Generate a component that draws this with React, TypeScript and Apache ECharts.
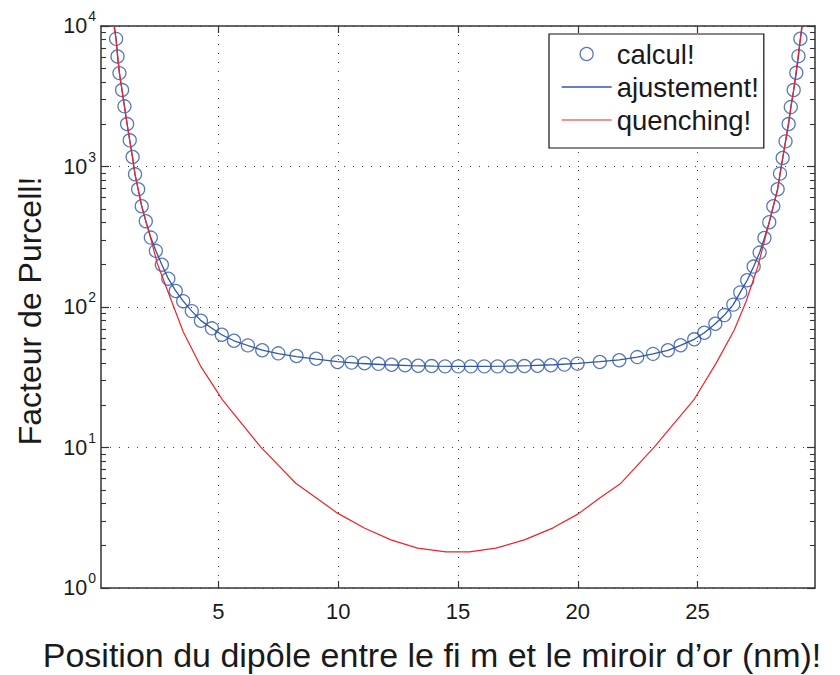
import React, { useEffect, useRef } from "react";
import * as echarts from "echarts";

// ---- data ----
const seriesNames = ["calcul!", "ajustement!", "quenching!"];

const calculX = [
  0.73, 0.79, 0.87, 0.98, 1.08, 1.19, 1.3, 1.42, 1.52, 1.65, 1.8, 1.97, 2.18, 2.39, 2.64, 2.91, 3.22, 3.53,
  3.89, 4.27, 4.73, 5.14, 5.65, 6.23, 6.83, 7.5, 8.26, 9.08, 9.97,
  10.56, 11.1, 11.68, 12.23, 12.79, 13.34, 13.9, 14.46, 15.01, 15.54, 16.1, 16.65, 17.21, 17.77, 18.32, 18.88,
  19.44, 19.99,
  20.92, 21.73, 22.48, 23.14, 23.76, 24.29, 24.86, 25.28, 25.74, 26.12, 26.49, 26.78, 27.07, 27.34, 27.59,
  27.79, 27.99, 28.16, 28.34, 28.44, 28.55, 28.67, 28.8, 28.89, 29.01, 29.12, 29.21, 29.29,
];
const calculY = [
  8100, 6070, 4620, 3500, 2680, 2005, 1536, 1168, 880, 689, 521, 408, 312, 251, 200, 159, 130, 110,
  93.5, 79.8, 70.5, 63.5, 57.5, 53.3, 49.2, 46.8, 44.8, 42.8, 40.6,
  40.2, 39.8, 39.4, 38.8, 38.5, 38.2, 38.0, 37.8, 37.8, 37.8, 37.8, 37.8, 37.9, 38.0, 38.2, 38.5,
  38.9, 39.5,
  40.6, 41.8, 44.0, 46.4, 49.2, 53.4, 58.9, 65.6, 76.0, 87.6, 104, 127, 155, 194, 244,
  310, 401, 521, 689, 890, 1149, 1510, 2005, 2648, 3500, 4645, 6100, 8110,
];

const fitX = [
  0.66, 0.73, 0.79, 0.87, 0.98, 1.08, 1.19, 1.3, 1.42, 1.52, 1.65, 1.8, 1.97, 2.18, 2.39, 2.64, 2.91, 3.22,
  3.53, 3.89, 4.27, 4.73, 5.14, 5.65, 6.23, 6.83, 7.5, 8.26, 9.08, 9.97,
  11.0, 12.0, 13.0, 14.0, 15.0, 16.0, 17.0, 18.0, 19.0, 20.0,
  20.92, 21.73, 22.48, 23.14, 23.76, 24.29, 24.86, 25.28, 25.74, 26.12, 26.49, 26.78, 27.07, 27.34, 27.59,
  27.79, 27.99, 28.16, 28.34, 28.44, 28.55, 28.67, 28.8, 28.89, 29.01, 29.12, 29.21, 29.29, 29.35,
];
const fitY = [
  10000, 8100, 6070, 4620, 3500, 2680, 2005, 1536, 1168, 880, 689, 521, 408, 312, 251, 200, 159, 130,
  110, 93.5, 80.0, 70.5, 63.5, 57.5, 53.2, 49.3, 46.6, 44.4, 42.5, 40.8,
  39.6, 38.8, 38.2, 37.9, 37.8, 37.8, 37.9, 38.2, 38.8, 39.7,
  40.8, 42.0, 44.0, 46.4, 49.2, 53.4, 58.9, 65.6, 76.0, 87.6, 104, 127, 155, 194, 244,
  310, 401, 521, 689, 890, 1149, 1510, 2005, 2648, 3500, 4645, 6100, 8110, 10000,
];

const quenchX = [
  0.64, 0.73, 0.87, 1.08, 1.3, 1.52, 1.8, 2.18, 2.45, 2.9, 3.53, 4.27, 5.17, 6.77, 8.23, 9.97, 11.09, 12.2,
  13.31, 14.5, 15.47, 16.58, 17.77, 18.95, 20.02, 20.9, 21.8, 23.19, 24.84, 25.77, 26.53, 27.02, 27.51,
  27.99, 28.34, 28.67, 29.01, 29.29, 29.37,
];
const quenchY = [
  10000, 8000, 4600, 2650, 1530, 880, 520, 305, 204, 128, 66.7, 37.6, 21.8, 10.05, 5.57, 3.41, 2.67, 2.2,
  1.92, 1.81, 1.81, 1.92, 2.2, 2.67, 3.37, 4.36, 5.57, 10.05, 21.8, 39.7, 68.5, 109, 193,
  401, 689, 1510, 3500, 8100, 10000,
];

const xTicks = [5, 10, 15, 20, 25];
const yTicks = [1, 10, 100, 1000, 10000];
const yTickExponents = ["0", "1", "2", "3", "4"];
const yMinorTicks = [
  2, 3, 4, 5, 6, 7, 8, 9, 20, 30, 40, 50, 60, 70, 80, 90, 200, 300, 400, 500, 600, 700, 800, 900,
  2000, 3000, 4000, 5000, 6000, 7000, 8000, 9000,
];
const xTitle = "Position du dipôle entre le fi m et le miroir d’or (nm)!";
const yTitle = "Facteur de Purcell!";

export default function App() {
  const ref = useRef<HTMLDivElement>(null);

  useEffect(() => {
    document.body.style.margin = "0";
    const chart = echarts.init(ref.current as HTMLDivElement, null, { renderer: "svg" });

    const FONT = "'Liberation Sans', Arial, Helvetica, sans-serif";
    const BLUE = "#2f56aa";
    const RED = "#f0222a";
    const AXIS = "#333333";
    const TXT = "#1a1a1a";

    const zip = (xs: number[], ys: number[]) => xs.map((x, i) => [x, ys[i]]);
    const dotted = { show: true, lineStyle: { color: "#3c3c3c", width: 1, type: [1, 8] } };
    const axisLine = { show: true, onZero: false, lineStyle: { color: AXIS, width: 1.5 } };

    const xCommon = { type: "value", min: 0.1, max: 29.9, gridIndex: 0 };
    const yCommon = { type: "log", logBase: 10, min: 1, max: 10000, gridIndex: 0 };

    const yLabel = (v: number) => {
      const i = yTicks.findIndex((t) => Math.abs(t - v) <= t * 1e-6);
      return i < 0 ? "" : `{b|10}{s|${yTickExponents[i]}}`;
    };

    const option: any = {
      animation: false,
      backgroundColor: "#ffffff",
      textStyle: { fontFamily: FONT },
      grid: { left: 101, top: 26, width: 714, height: 562, containLabel: false },
      xAxis: [
        {
          ...xCommon,
          position: "bottom",
          axisLine,
          axisTick: { show: true, inside: true, length: 7, customValues: xTicks, lineStyle: { color: AXIS, width: 1.2 } },
          axisLabel: { show: true, customValues: xTicks, fontSize: 22, fontFamily: FONT, color: TXT, margin: 12 },
          splitLine: dotted,
        },
        {
          ...xCommon,
          position: "top",
          axisLine,
          axisTick: { show: true, inside: true, length: 7, customValues: xTicks, lineStyle: { color: AXIS, width: 1.2 } },
          axisLabel: { show: false },
          splitLine: { show: false },
        },
      ],
      yAxis: [
        {
          ...yCommon,
          position: "left",
          axisLine,
          axisTick: { show: true, inside: true, length: 8, lineStyle: { color: AXIS, width: 1.2 } },
          axisLabel: {
            show: true,
            margin: 5,
            formatter: yLabel,
            rich: {
              b: { fontSize: 21.5, fontFamily: FONT, color: TXT, lineHeight: 22 },
              s: { fontSize: 14, fontFamily: FONT, color: TXT, lineHeight: 14, padding: [0, 0, 20, 1] },
            },
          },
          splitLine: dotted,
        },
        {
          ...yCommon,
          position: "right",
          axisLine,
          axisTick: { show: true, inside: true, length: 8, lineStyle: { color: AXIS, width: 1.2 } },
          axisLabel: { show: false },
          splitLine: { show: false },
        },
        {
          ...yCommon,
          position: "left",
          axisLine: { show: false },
          axisTick: { show: true, inside: true, length: 5, customValues: yMinorTicks, lineStyle: { color: AXIS, width: 1.1 } },
          axisLabel: { show: false },
          splitLine: { show: false },
        },
        {
          ...yCommon,
          position: "right",
          axisLine: { show: false },
          axisTick: { show: true, inside: true, length: 5, customValues: yMinorTicks, lineStyle: { color: AXIS, width: 1.1 } },
          axisLabel: { show: false },
          splitLine: { show: false },
        },
      ],
      legend: {
        orient: "vertical",
        left: 549,
        top: 34,
        padding: [5, 5, 13, 12],
        itemWidth: 50,
        itemHeight: 13,
        itemGap: 3,
        selectedMode: false,
        borderColor: "#111111",
        borderWidth: 1.2,
        backgroundColor: "#ffffff",
        textStyle: { fontSize: 27.5, fontFamily: FONT, color: TXT, lineHeight: 30 },
        data: [
          { name: seriesNames[0], icon: "circle", itemStyle: { color: "rgba(255,255,255,0)", borderColor: BLUE, borderWidth: 1.3 } },
          { name: seriesNames[1], itemStyle: { opacity: 0 }, lineStyle: { color: BLUE, width: 1.3 } },
          { name: seriesNames[2], itemStyle: { opacity: 0 }, lineStyle: { color: RED, width: 1.2 } },
        ],
      },
      series: [
        {
          name: seriesNames[0],
          type: "scatter",
          xAxisIndex: 0,
          yAxisIndex: 0,
          symbol: "circle",
          symbolSize: 13,
          itemStyle: { color: "rgba(255,255,255,0)", borderColor: BLUE, borderWidth: 1.3 },
          data: zip(calculX, calculY),
          z: 2,
        },
        {
          name: seriesNames[1],
          type: "line",
          xAxisIndex: 0,
          yAxisIndex: 0,
          symbol: "none",
          showSymbol: false,
          lineStyle: { color: BLUE, width: 1.3 },
          itemStyle: { color: BLUE },
          data: zip(fitX, fitY),
          z: 3,
        },
        {
          name: seriesNames[2],
          type: "line",
          xAxisIndex: 0,
          yAxisIndex: 0,
          symbol: "none",
          showSymbol: false,
          lineStyle: { color: RED, width: 1.2 },
          itemStyle: { color: RED },
          data: zip(quenchX, quenchY),
          z: 4,
        },
      ],
      graphic: [
        {
          type: "text",
          x: 30,
          y: 311,
          rotation: Math.PI / 2,
          style: {
            text: yTitle,
            fontSize: 32,
            fontFamily: FONT,
            fill: TXT,
            align: "center",
            verticalAlign: "middle",
          },
        },
        {
          type: "text",
          x: 432,
          y: 655,
          style: {
            text: xTitle,
            fontSize: 34,
            fontFamily: FONT,
            fill: TXT,
            align: "center",
            verticalAlign: "middle",
          },
        },
      ],
    };

    chart.setOption(option);
    return () => chart.dispose();
  }, []);

  return <div ref={ref} style={{ width: 840, height: 675 }} />;
}
